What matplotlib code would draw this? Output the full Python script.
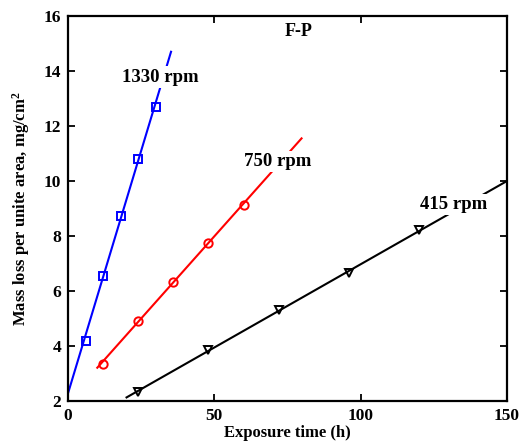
import numpy as np
import matplotlib.pyplot as plt

plt.rcParams["font.family"] = ["Liberation Serif", "DejaVu Serif"]
plt.rcParams["font.weight"] = "bold"
plt.rcParams["mathtext.fontset"] = "custom"
plt.rcParams["mathtext.rm"] = "Liberation Serif:bold"
plt.rcParams["mathtext.it"] = "Liberation Serif:bold"
plt.rcParams["mathtext.bf"] = "Liberation Serif:bold"

# measured points
t_1330 = [6, 12, 18, 24, 30]
m_1330 = [4.18, 6.56, 8.74, 10.8, 12.7]
t_750 = [12, 24, 36, 48, 60]
m_750 = [3.35, 4.92, 6.32, 7.76, 9.13]
t_415 = [24, 48, 72, 96, 120]
m_415 = [2.32, 3.85, 5.31, 6.64, 8.22]

# linear fit lines (end points)
fit_t_1330 = [0, 35.2]
fit_m_1330 = [2.28, 14.7]
fit_t_750 = [10.0, 79.8]
fit_m_750 = [3.21, 11.55]
fit_t_415 = [20.0, 150]
fit_m_415 = [2.13, 10.0]

fig = plt.figure(figsize=(5.2, 4.41), dpi=100)
ax = fig.add_axes([0.1308, 0.0907, 0.975 - 0.1308, 0.9637 - 0.0907])

lw = 1.5
ax.plot(fit_t_1330, fit_m_1330, color="blue", lw=lw, zorder=2)
ax.plot(t_1330, m_1330, ls="none", marker="s", ms=5.5, mfc="none",
        mec="blue", mew=1.4, zorder=3)
ax.plot(fit_t_750, fit_m_750, color="red", lw=lw, zorder=2)
ax.plot(t_750, m_750, ls="none", marker="o", ms=6, mfc="none",
        mec="red", mew=1.4, zorder=3)
ax.plot(fit_t_415, fit_m_415, color="black", lw=lw, zorder=2)
ax.plot(t_415, m_415, ls="none", marker="v", ms=5.5, mfc="none",
        mec="black", mew=1.4, zorder=3)

box = dict(facecolor="white", edgecolor="none", pad=1.5)
ax.text(31.4, 13.78, "1330 rpm", fontsize=13.5, fontweight="bold",
        ha="center", va="center", bbox=box, zorder=4)
ax.text(71.8, 10.7, "750 rpm", fontsize=13.5, fontweight="bold",
        ha="center", va="center", bbox=box, zorder=4)
ax.text(131.9, 9.13, "415 rpm", fontsize=13.5, fontweight="bold",
        ha="center", va="center", bbox=box, zorder=4)
ax.text(78.9, 15.45, "F-P", fontsize=13, fontweight="bold",
        ha="center", va="center", zorder=4)

ax.set_xlim(0, 150)
ax.set_ylim(2, 16)
ax.set_xticks([0, 50, 100, 150])
ax.set_yticks(np.arange(2, 17, 2))
ax.tick_params(direction="in", length=5, width=1.3, top=True, right=True,
               labelsize=12.5, pad=5)
for lab in ax.get_xticklabels() + ax.get_yticklabels():
    lab.set_fontweight("bold")
for sp in ax.spines.values():
    sp.set_linewidth(1.6)

ax.set_xlabel("Exposure time (h)", fontsize=12, fontweight="bold", labelpad=1)
ax.set_ylabel("Mass loss per unite area, mg/cm$^2$", fontsize=12,
              fontweight="bold", labelpad=8)

fig.savefig("out.png", dpi=100)
